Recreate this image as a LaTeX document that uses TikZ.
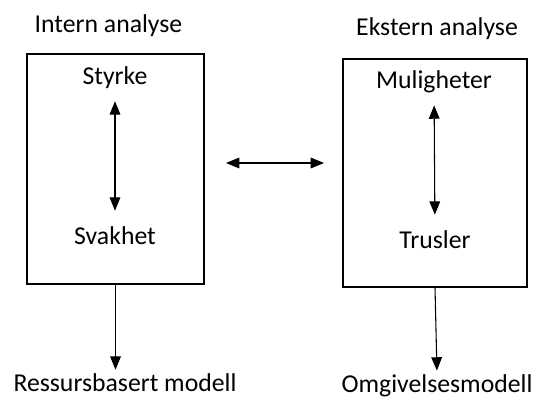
\documentclass[tikz,border=0pt]{standalone}
\usepackage{fontspec}
\setmainfont{Carlito}
\usetikzlibrary{arrows.meta}

\tikzset{
  txt/.style={inner sep=0.75pt, font=\fontsize{19.3}{23}\selectfont},
  boks/.style={draw, line width=0.9pt, inner sep=0pt},
  pil/.style={-{Triangle[length=10pt,width=8pt]}, line width=0.8pt},
  dpil/.style={{Triangle[length=10pt,width=8pt]}-{Triangle[length=10pt,width=8pt]}, line width=0.8pt}
}

\begin{document}
\begin{tikzpicture}[x=0.75pt,y=0.75pt,yscale=-1,xscale=1]
\useasboundingbox (0,0) rectangle (541,398);

%Boxes
\node [boks, minimum width=177*0.75pt, minimum height=230*0.75pt] (intern) at (115.5,169) {};
\node [boks, minimum width=184*0.75pt, minimum height=228*0.75pt] (ekstern) at (435,173) {};

% Text Node
\node [txt] (internlbl) at (108.5,26) {Intern analyse};
% Text Node
\node [txt] (eksternlbl) at (437,29) {Ekstern analyse};
% Text Node
\node [txt] (styrke) at (115,78) {Styrke};
% Text Node
\node [txt] (svakhet) at (115,236) {Svakhet};
% Text Node
\node [txt] (muligheter) at (434,82) {Muligheter};
% Text Node
\node [txt] (trusler) at (435,240) {Trusler};
% Text Node
\node [txt] (ressurs) at (125,383) {Ressursbasert modell};
% Text Node
\node [txt] (omgiv) at (437,386) {Omgivelsesmodell};

\coordinate (midL) at (226,163);
\coordinate (midR) at (324,163);

%Arrows
\draw [dpil, shorten <=11*0.75pt, shorten >=15*0.75pt] (styrke) -- (svakhet);
\draw [dpil, shorten <=11*0.75pt, shorten >=15*0.75pt] (muligheter) -- (trusler);
\draw [dpil] (midL) -- (midR);
\draw [pil, shorten >=3*0.75pt] (intern.south) -- (intern.south |- ressurs.north);
\draw [pil, shorten >=3*0.75pt] (ekstern.south) -- (omgiv.north);

\end{tikzpicture}
\end{document}
